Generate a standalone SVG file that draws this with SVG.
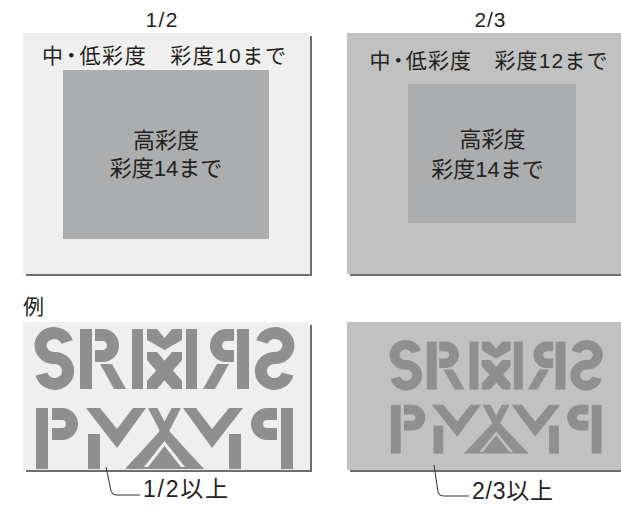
<svg xmlns="http://www.w3.org/2000/svg" xmlns:xlink="http://www.w3.org/1999/xlink" width="621" height="510" viewBox="0 0 621 510">
<defs>
<style>
text { font-family: "Liberation Sans", "Noto Sans CJK JP", sans-serif; fill: #231f20; font-size: 21px; }
.inner { font-size: 22px; }
.title { font-size: 21px; }
.call { font-size: 23px; }
.light { fill: #efefef; }
.mid { fill: #c1c1c1; }
.core { fill: #acadaf; }
.shadow { fill: #6e6e6e; }
.lead { fill: none; stroke: #333333; stroke-width: 1; }
</style>
<g id="half" fill="#8f8f8f">
  <path d="M67,342 A13.5 12.5 0 1 0 54.5,358 A13.5 13 0 1 1 41.5,374" fill="none" stroke="#8f8f8f" stroke-width="12"/>
  <rect x="80" y="329" width="12" height="60"/>
  <path d="M95,335 H103 A10 10.5 0 0 1 103,356 H95" fill="none" stroke="#8f8f8f" stroke-width="12"/>
  <polygon points="100,364 112,364 126,389 114,389"/>
  <rect x="132" y="329" width="11" height="60"/>
  <rect x="36" y="408" width="12" height="61"/>
  <path d="M52,414 H62 A10 10 0 0 1 62,434 H52" fill="none" stroke="#8f8f8f" stroke-width="12"/>
  <rect x="88" y="434" width="12" height="35"/>
  <polygon points="86,408 100,408 117,429 133,408 146,408 117,448"/>
</g>
<g id="logo">
  <use xlink:href="#half" href="#half"/>
  <use xlink:href="#half" href="#half" transform="translate(329 0) scale(-1 1)"/>
  <g fill="#8f8f8f">
    <polygon points="147,329 157,329 164.5,338 172,329 182,329 182,340 164.5,350 147,340"/>
    <polygon points="147,352 157,352 182,381 182,389 172,389 147,360"/>
    <polygon points="182,352 172,352 147,381 147,389 157,389 182,360"/>
    <polygon points="148,408 157.5,408 178,448 168.5,448"/>
    <polygon points="181,408 171.5,408 151,448 160.5,448"/>
    <polygon points="125,469 204,469 164.5,426"/>
  </g>
  <polygon points="144,467 164.5,441 185,467 181,467 164.5,446 148,467" fill="currentColor"/>
</g>
</defs>

<g id="panel-half-chroma">
  <rect class="shadow" x="26" y="36" width="286" height="240"/>
  <rect class="light" x="23" y="33" width="287" height="241"/>
  <rect class="core" x="63" y="70" width="206" height="169"/>
  <text class="title" x="161.5" y="27" text-anchor="middle" textLength="32">1/2</text>
  <text x="164" y="62.5" dx="0 -4 -4" text-anchor="middle" textLength="244">中・低彩度　彩度10まで</text>
  <text class="inner" x="166" y="147.5" text-anchor="middle">高彩度</text>
  <text class="inner" x="166" y="176" text-anchor="middle">彩度14まで</text>
</g>

<g id="panel-twothirds-chroma">
  <rect class="shadow" x="350" y="36" width="280" height="240"/>
  <rect class="mid" x="347" y="33" width="280" height="241"/>
  <rect class="core" x="408" y="84" width="168" height="139"/>
  <text class="title" x="490" y="27" text-anchor="middle" textLength="31">2/3</text>
  <text x="488.5" y="67.5" dx="0 -4 -4" text-anchor="middle" textLength="238">中・低彩度　彩度12まで</text>
  <text class="inner" x="492.5" y="147" text-anchor="middle">高彩度</text>
  <text class="inner" x="487.5" y="177" text-anchor="middle">彩度14まで</text>
</g>

<g id="example-label">
  <text x="23" y="313.5">例</text>
</g>

<g id="example-half">
  <rect class="shadow" x="26" y="325" width="286" height="147"/>
  <rect class="light" x="23" y="322" width="287" height="148"/>
  <use xlink:href="#logo" href="#logo" style="color:#efefef"/>
</g>

<g id="example-twothirds">
  <rect class="shadow" x="350" y="325" width="280" height="147"/>
  <rect class="mid" x="347" y="322" width="280" height="148"/>
  <use xlink:href="#logo" href="#logo" style="color:#c1c1c1" transform="translate(361.3 78.4) scale(0.82 0.8)"/>
</g>

<g id="connectors">
  <path class="lead" d="M106,467 L111,491 Q112,495 116,495 H140"/>
  <path class="lead" d="M434,465 L438,492 Q439,496 443,496 H469"/>
</g>

<g id="callout-half">
  <text class="call" x="143" y="497" textLength="85">1/2以上</text>
</g>
<g id="callout-twothirds">
  <text class="call" x="472" y="499" textLength="81">2/3以上</text>
</g>
</svg>
